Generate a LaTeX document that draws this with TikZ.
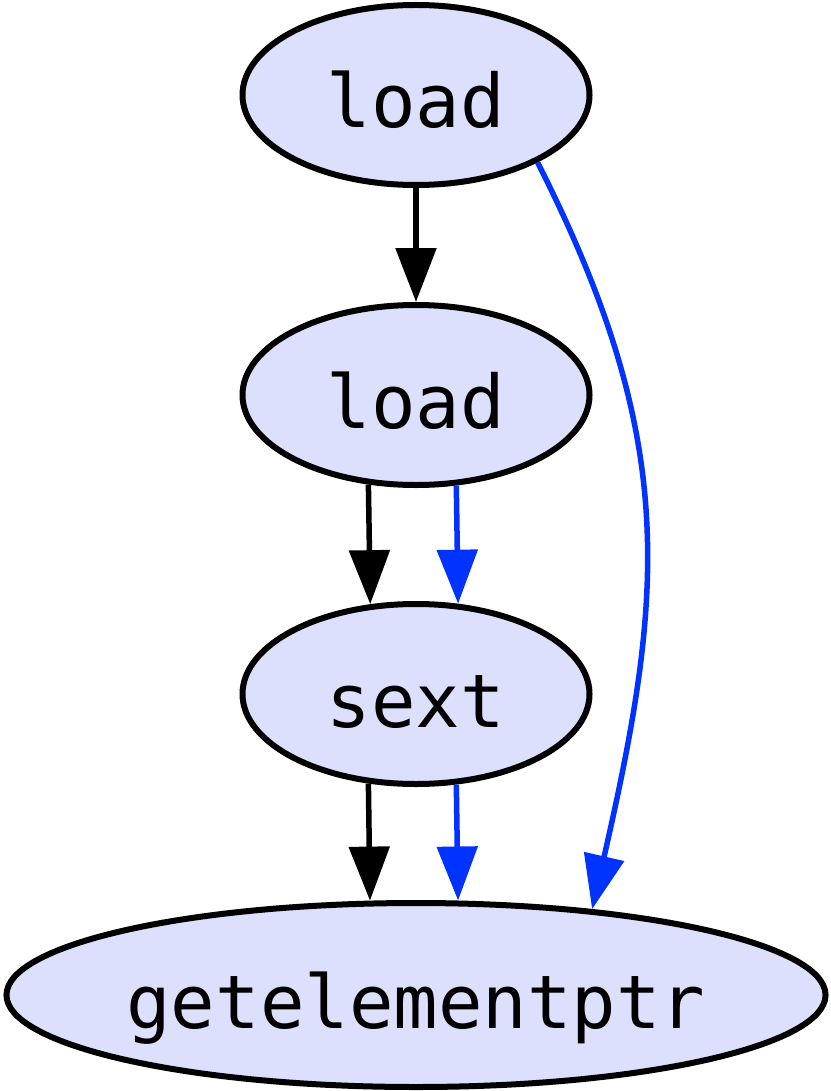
\documentclass[tikz,border=0pt]{standalone}
\usepackage{fontspec}
\setmonofont{DejaVu Sans Mono}
\usetikzlibrary{arrows.meta,shapes.geometric}
\definecolor{nodefill}{RGB}{221,224,252}
\definecolor{edgeblue}{RGB}{0,51,255}
\tikzset{
  op/.style={ellipse, draw=black, line width=6pt, fill=nodefill, inner sep=0pt,
    minimum width=347pt, minimum height=180pt,
    font=\ttfamily\fontsize{74}{74}\selectfont, text height=66pt, text depth=0pt},
  dep/.style={line width=5.5pt, -{Triangle[length=54pt,width=40pt]}},
  blk/.style={dep, draw=black},
  blu/.style={dep, draw=edgeblue},
}
\begin{document}
\begin{tikzpicture}[x=1pt,y=-1pt]
\useasboundingbox (0,0) rectangle (830,1091);
\node[op] (n1) at (416,95) {load};
\node[op] (n2) at (416,395) {load};
\node[op] (n3) at (416,694) {sext};
\node[op, minimum width=818pt, minimum height=184pt] (n4) at (416,995) {getelementptr};
\draw[blk] (n1.south) -- (n2.north);
\draw[blk] (n2.242.3) -- (n3.117.7);
\draw[blu] (n2.294.3) -- (n3.65.7);
\draw[blk] (n3.242.3) -- (n4.116.7);
\draw[blu] (n3.294.3) -- (n4.66.4);
\draw[blu] (n1.331.2) .. controls (678,440) and (665,590) .. (n4.26.3);
\end{tikzpicture}
\end{document}
